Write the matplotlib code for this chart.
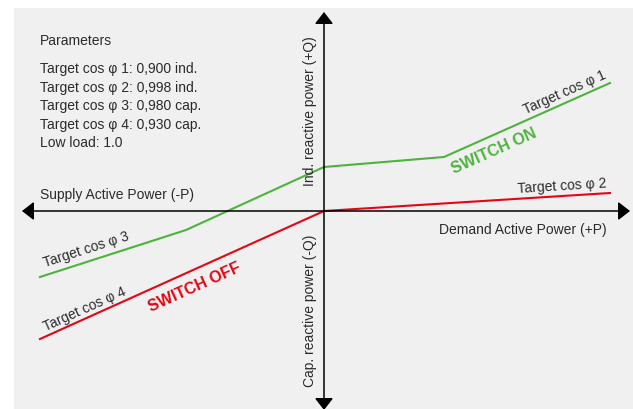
import matplotlib.pyplot as plt
import numpy as np
from matplotlib.patches import Rectangle

# curve data (P = active power, Q = reactive power, arbitrary units)
green_p = [-28.4, -13.8, 0.0, 12.0, 28.6]
green_q = [-6.6, -1.9, 4.4, 5.4, 12.8]
red_p = [-28.4, 0.0, 28.6]
red_q = [-12.8, 0.0, 1.8]

params = ['Target cos φ 1: 0,900 ind.',
          'Target cos φ 2: 0,998 ind.',
          'Target cos φ 3: 0,980 cap.',
          'Target cos φ 4: 0,930 cap.',
          'Low load: 1.0']

GREEN = '#4db33d'
RED = '#e30613'
TXT = '#2b2b2b'

plt.rcParams['font.family'] = ['Liberation Sans', 'DejaVu Sans']

fig = plt.figure(figsize=(6.33, 4.10), dpi=100)
ax = fig.add_axes([0, 0, 1, 1])
ax.set_xlim(-32.4, 30.9)
ax.set_ylim(-19.8, 21.2)
ax.axis('off')
# grey panel
ax.add_patch(Rectangle((14/633, 0), 1, 1 - 9/410, transform=fig.transFigure,
                       facecolor='#f0f0f0', edgecolor='none', zorder=0, clip_on=False))

# axes arrows
arr = dict(arrowstyle='<|-|>,head_length=7.2,head_width=5.6', mutation_scale=1,
           lw=1.1, color='black', shrinkA=0, shrinkB=0)
ax.annotate('', xy=(30.6, 0), xytext=(-30.2, 0), arrowprops=arr)
ax.annotate('', xy=(0, 19.9), xytext=(0, -19.9), arrowprops=arr)

ax.plot(green_p, green_q, color=GREEN, lw=1.5, solid_joinstyle='miter')
ax.plot(red_p, red_q, color=RED, lw=1.5)

def ang(p, q, i):
    return np.degrees(np.arctan2(q[i+1] - q[i], p[i+1] - p[i]))

kw = dict(ha='center', va='center', rotation_mode='anchor', color=TXT, fontsize=10)
ax.text(24.1, 11.9, 'Target cos φ 1', rotation=ang(green_p, green_q, 3), **kw)
ax.text(23.8, 2.6, 'Target cos φ 2', rotation=ang(red_p, red_q, 1), **kw)
ax.text(-23.8, -3.8, 'Target cos φ 3', rotation=ang(green_p, green_q, 0), **kw)
ax.text(-23.9, -9.7, 'Target cos φ 4', rotation=ang(red_p, red_q, 0), **kw)

ax.text(17.0, 6.1, 'SWITCH ON', rotation=ang(green_p, green_q, 3), ha='center', va='center',
        rotation_mode='anchor', color=GREEN, fontsize=11.5, fontweight='bold')
ax.text(-12.9, -7.5, 'SWITCH OFF', rotation=ang(red_p, red_q, 0), ha='center', va='center',
        rotation_mode='anchor', color=RED, fontsize=11.5, fontweight='bold')

ax.text(-28.4, 1.7, 'Supply Active Power (-P)', ha='left', va='center', color=TXT, fontsize=10)
ax.text(28.3, -1.8, 'Demand Active Power (+P)', ha='right', va='center', color=TXT, fontsize=10)
ax.text(-1.4, 10.1, 'Ind. reactive power (+Q)', rotation=90, ha='center', va='center', color=TXT, fontsize=10)
ax.text(-1.4, -9.9, 'Cap. reactive power (-Q)', rotation=90, ha='center', va='center', color=TXT, fontsize=10)

ax.text(-28.4, 17.1, 'Parameters', ha='left', va='center', color=TXT, fontsize=10)
ys = [14.3, 12.4, 10.6, 8.7, 6.9]
for y, s in zip(ys, params):
    ax.text(-28.4, y, s, ha='left', va='center', color=TXT, fontsize=10)

fig.savefig('out.png', dpi=100)
